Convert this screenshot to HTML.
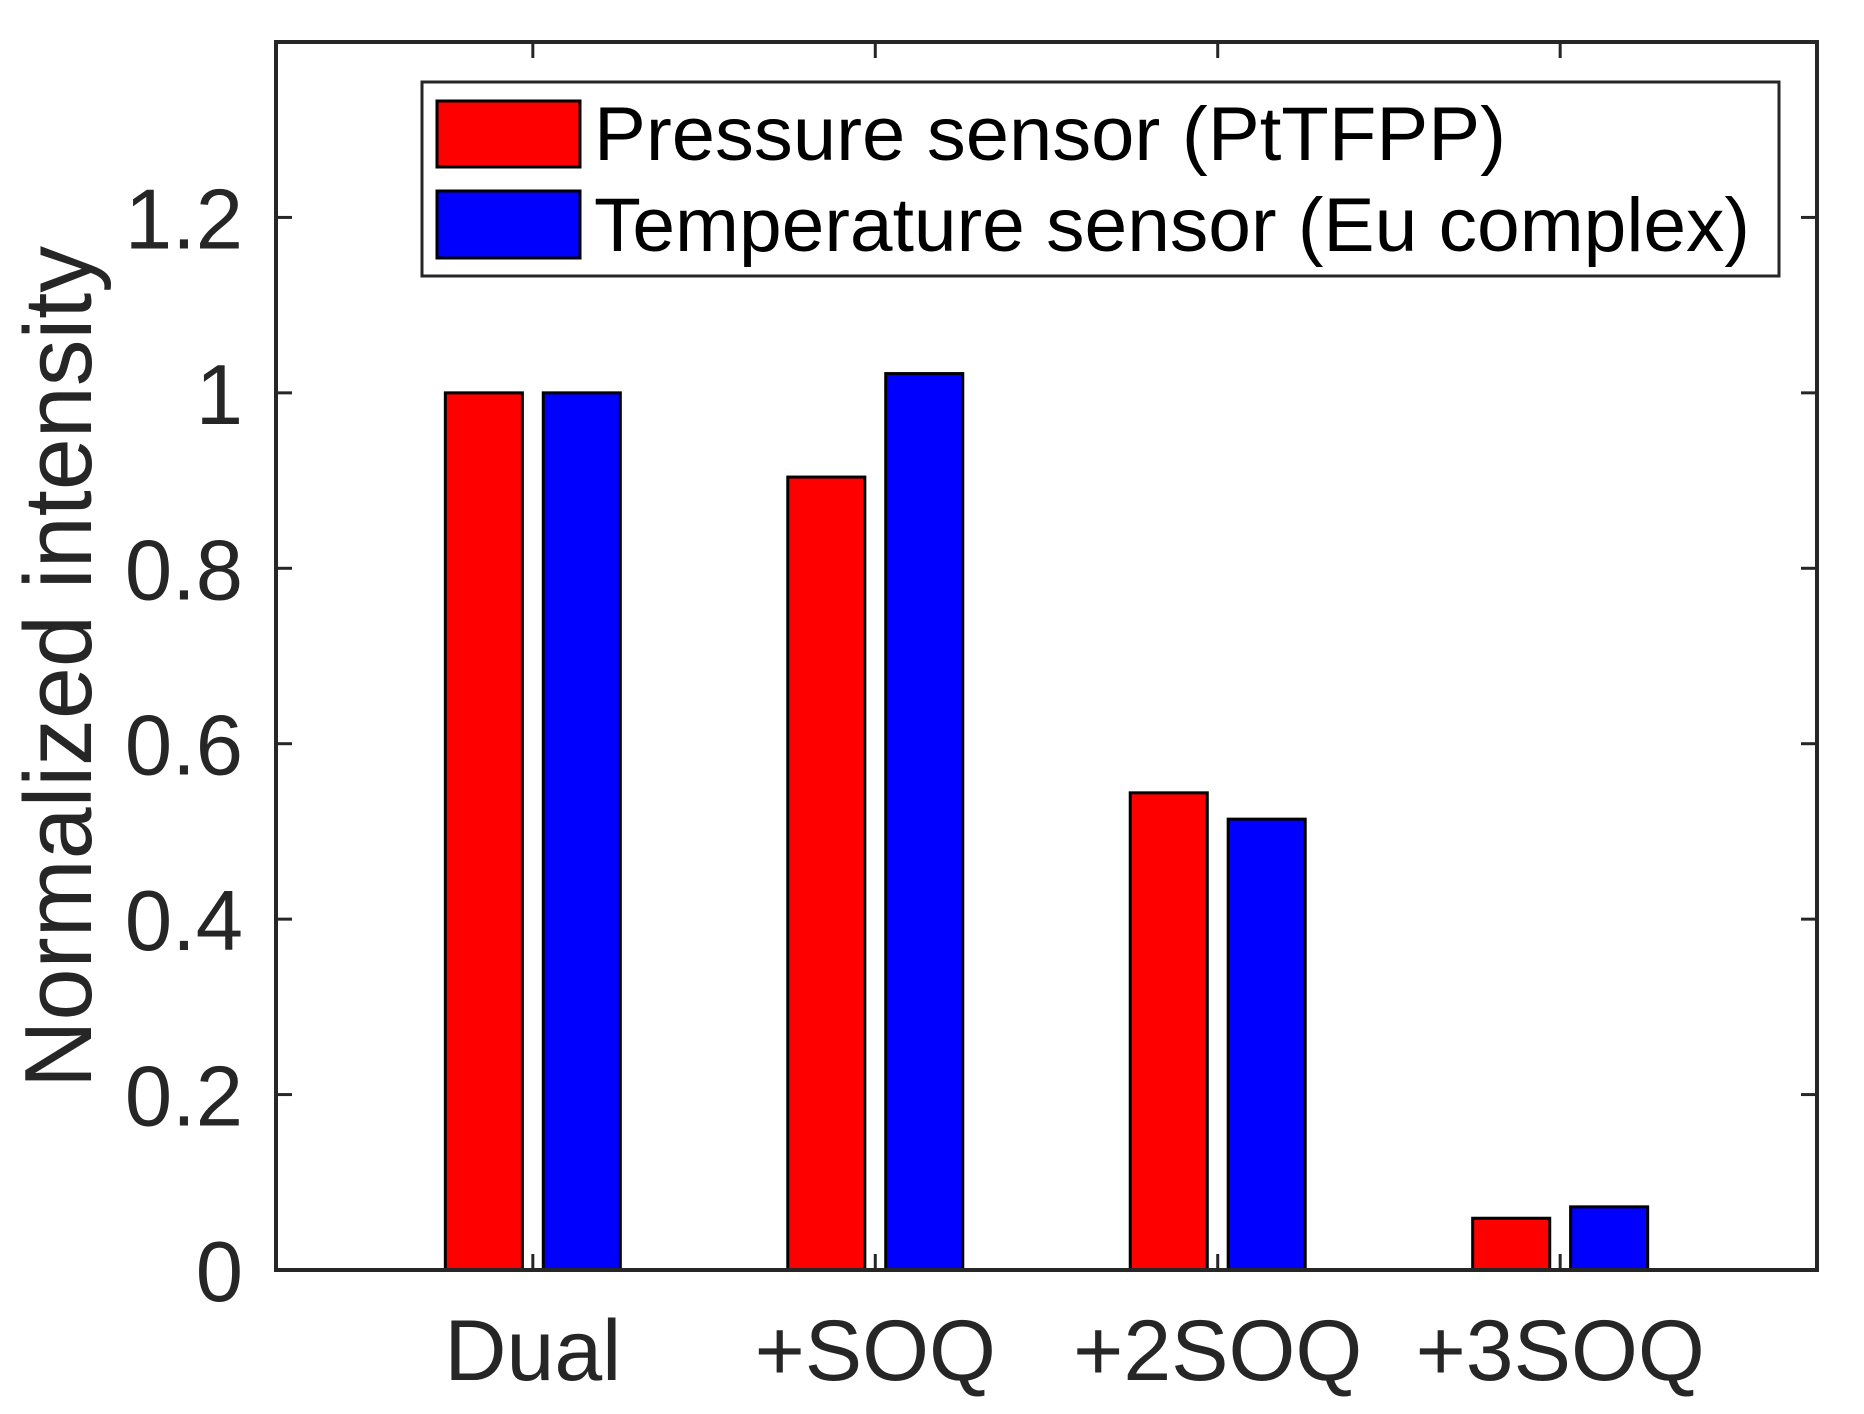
<!DOCTYPE html>
<html><head><meta charset="utf-8"><style>
html,body{margin:0;padding:0;background:#fff;}
svg{display:block;font-family:"Liberation Sans",Arial,sans-serif;}
</style></head><body>
<svg id="chart" width="1864" height="1414" viewBox="0 0 1864 1414">
<rect x="0" y="0" width="1864" height="1414" fill="#fff"/>
<g id="bars"></g>
<g id="axes"></g>
<g id="legend">
  <rect x="422" y="82" width="1357" height="194" fill="#fff" stroke="#262626" stroke-width="3"/>
  <rect x="437" y="101" width="143" height="66" fill="#ff0000" stroke="#000" stroke-width="3"/>
  <text x="594" y="160" font-size="76" fill="#000" textLength="912" lengthAdjust="spacingAndGlyphs">Pressure sensor (PtTFPP)</text>
  <rect x="437" y="191" width="143" height="67" fill="#0000ff" stroke="#000" stroke-width="3"/>
  <text x="594" y="251" font-size="76" fill="#000" textLength="1156" lengthAdjust="spacingAndGlyphs">Temperature sensor (Eu complex)</text>
</g>
<text x="0" y="0" transform="translate(91,667) rotate(-90)" text-anchor="middle" font-size="96" fill="#262626" textLength="842" lengthAdjust="spacingAndGlyphs">Normalized intensity</text>
</svg>
<script>
const categories = ["Dual", "+SOQ", "+2SOQ", "+3SOQ"];
const pressureValues = [1.0, 0.904, 0.544, 0.059];
const temperatureValues = [1.0, 1.022, 0.514, 0.072];
const yTicks = [0, 0.2, 0.4, 0.6, 0.8, 1, 1.2];
const yTickLabels = ["0", "0.2", "0.4", "0.6", "0.8", "1", "1.2"];

const NS = "http://www.w3.org/2000/svg";
const L = 276, R = 1817, T = 42, B = 1270;
const xMin = 0.25, xMax = 4.75, yMin = 0, yMax = 1.4;
function xs(v){ return L + (v - xMin) / (xMax - xMin) * (R - L); }
function ys(v){ return B - (v - yMin) / (yMax - yMin) * (B - T); }
function mk(tag, attrs, parent){ const e = document.createElementNS(NS, tag); for (const k in attrs) e.setAttribute(k, attrs[k]); parent.appendChild(e); return e; }

const barsG = document.getElementById("bars");
const axesG = document.getElementById("axes");
const unit = xs(1) - xs(0);
const off = 0.143 * unit, bw = 0.225 * unit;
categories.forEach((c, i) => {
  const cx = xs(i + 1);
  const p = pressureValues[i], t = temperatureValues[i];
  const r1 = mk("rect", {x: cx - off - bw/2, y: ys(p), width: bw, height: ys(0) - ys(p), fill: "#ff0000", stroke: "#000", "stroke-width": 3}, barsG);
  
  
  const r2 = mk("rect", {x: cx + off - bw/2, y: ys(t), width: bw, height: ys(0) - ys(t), fill: "#0000ff", stroke: "#000", "stroke-width": 3}, barsG);
  
  
  const tk1 = mk("line", {x1: cx, x2: cx, y1: B, y2: B - 16, stroke: "#262626", "stroke-width": 3}, axesG);
  
  
  const tk2 = mk("line", {x1: cx, x2: cx, y1: T, y2: T + 16, stroke: "#262626", "stroke-width": 3}, axesG);
  
  
  const lb = mk("text", {x: cx, y: 1380, "text-anchor": "middle", "font-size": 86, fill: "#262626"}, axesG);
  lb.textContent = c;
  
  
});
yTicks.forEach((v, i) => {
  const y = ys(v);
  const a = mk("line", {x1: L, x2: L + 16, y1: y, y2: y, stroke: "#262626", "stroke-width": 3}, axesG);
  
  
  const b = mk("line", {x1: R, x2: R - 16, y1: y, y2: y, stroke: "#262626", "stroke-width": 3}, axesG);
  
  
  const t = mk("text", {x: 243, y: y + 31, "text-anchor": "end", "font-size": 85, fill: "#262626"}, axesG);
  t.textContent = yTickLabels[i];
  
  
});
const frame = mk("rect", {x: L, y: T, width: R - L, height: B - T, fill: "none", stroke: "#262626", "stroke-width": 4}, axesG);


</script>
</body></html>
